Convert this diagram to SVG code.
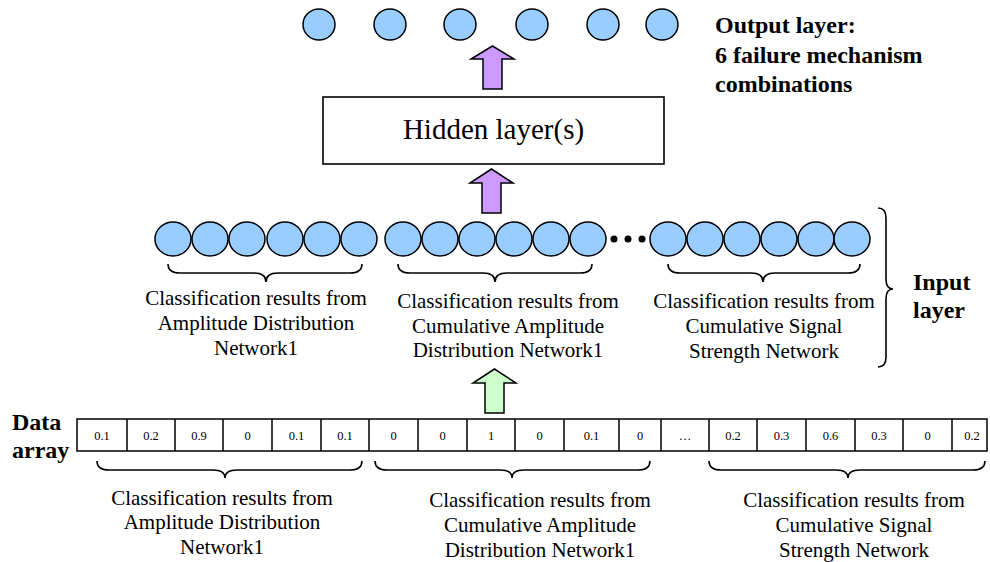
<svg xmlns="http://www.w3.org/2000/svg" width="990" height="562" viewBox="0 0 990 562">
<style>
.n{fill:#99CCFF;stroke:#000;stroke-width:1.5}
.br{fill:none;stroke:#000;stroke-width:1.6}
.t{font-family:"Liberation Serif","Times New Roman",serif;fill:#000}
.lbl{font-size:21px;text-anchor:middle}
.b{font-size:24px;font-weight:bold}
.cell{fill:#fff;stroke:#000;stroke-width:1.5}
.ct{font-size:12.5px;text-anchor:middle}
.pa{fill:#CC99FF;stroke:#000;stroke-width:1.5;stroke-linejoin:miter}
.ga{fill:#CCFFCC;stroke:#000;stroke-width:1.5}
</style>
<rect width="990" height="562" fill="#fff"/>

<g id="output-layer">
<ellipse class="n" cx="319" cy="24.5" rx="16" ry="15.5"/>
<ellipse class="n" cx="390" cy="24.5" rx="16" ry="15.5"/>
<ellipse class="n" cx="460" cy="24.5" rx="16" ry="15.5"/>
<ellipse class="n" cx="532" cy="24.5" rx="16" ry="15.5"/>
<ellipse class="n" cx="603" cy="24.5" rx="16" ry="15.5"/>
<ellipse class="n" cx="662" cy="24.5" rx="16" ry="15.5"/>
</g>
<g id="output-label">
<text class="t b" x="715" y="33">Output layer:</text>
<text class="t b" x="715" y="63">6 failure mechanism</text>
<text class="t b" x="715" y="92">combinations</text>
</g>

<g id="hidden-layer">
<rect x="323" y="97" width="341" height="67" fill="#fff" stroke="#000" stroke-width="1.6"/>
<text class="t" x="493.5" y="139" font-size="29" text-anchor="middle">Hidden layer(s)</text>
</g>

<g id="connectors">
<path class="pa" d="M492.5,46 L514,59 L502,59 L502,89 L483,89 L483,59 L471,59 Z"/>
<path class="pa" d="M491.5,169 L513,183 L501,183 L501,213 L482,213 L482,183 L470,183 Z"/>
<path class="ga" d="M494.5,369 L516,383 L504,383 L504,413 L485,413 L485,383 L473,383 Z"/>
</g>

<g id="input-group-1">
<ellipse class="n" cx="173" cy="239" rx="18" ry="17"/>
<ellipse class="n" cx="210" cy="239" rx="18" ry="17"/>
<ellipse class="n" cx="247" cy="239" rx="18" ry="17"/>
<ellipse class="n" cx="285" cy="239" rx="18" ry="17"/>
<ellipse class="n" cx="322" cy="239" rx="18" ry="17"/>
<ellipse class="n" cx="359" cy="239" rx="18" ry="17"/>
<path class="br" d="M168,264 Q168,273 180,273 L254,273 Q266,273 266,282 Q266,273 278,273 L350,273 Q362,273 362,264"/>
<text class="t lbl" x="256" y="305">Classification results from</text>
<text class="t lbl" x="256" y="330">Amplitude Distribution</text>
<text class="t lbl" x="256" y="355">Network1</text>
</g>

<g id="input-group-2">
<ellipse class="n" cx="403" cy="239" rx="18" ry="17"/>
<ellipse class="n" cx="440" cy="239" rx="18" ry="17"/>
<ellipse class="n" cx="477" cy="239" rx="18" ry="17"/>
<ellipse class="n" cx="514" cy="239" rx="18" ry="17"/>
<ellipse class="n" cx="551" cy="239" rx="18" ry="17"/>
<ellipse class="n" cx="588" cy="239" rx="18" ry="17"/>
<path class="br" d="M398,264 Q398,273 410,273 L483,273 Q495,273 495,282 Q495,273 507,273 L580,273 Q592,273 592,264"/>
<text class="t lbl" x="508" y="308">Classification results from</text>
<text class="t lbl" x="508" y="333">Cumulative Amplitude</text>
<text class="t lbl" x="508" y="357">Distribution Network1</text>
</g>

<g id="ellipsis-dots">
<circle cx="614" cy="239" r="3.5" fill="#000"/>
<circle cx="628" cy="239" r="3.5" fill="#000"/>
<circle cx="642" cy="239" r="3.5" fill="#000"/>
</g>

<g id="input-group-3">
<ellipse class="n" cx="668" cy="239" rx="18" ry="17"/>
<ellipse class="n" cx="705" cy="239" rx="18" ry="17"/>
<ellipse class="n" cx="742" cy="239" rx="18" ry="17"/>
<ellipse class="n" cx="779" cy="239" rx="18" ry="17"/>
<ellipse class="n" cx="816" cy="239" rx="18" ry="17"/>
<ellipse class="n" cx="852" cy="239" rx="18" ry="17"/>
<path class="br" d="M668,264 Q668,273 680,273 L751,273 Q763,273 763,282 Q763,273 775,273 L848,273 Q860,273 860,264"/>
<text class="t lbl" x="764" y="308">Classification results from</text>
<text class="t lbl" x="764" y="333">Cumulative Signal</text>
<text class="t lbl" x="764" y="358">Strength Network</text>
</g>

<g id="input-layer-label">
<path class="br" d="M878,208 Q886,208 886,218 L886,279 Q886,289 893,289 Q886,289 886,299 L886,357 Q886,367 878,367"/>
<text class="t b" x="913" y="290">Input</text>
<text class="t b" x="913" y="318">layer</text>
</g>

<g id="data-array">
<text class="t b" x="12" y="430">Data</text>
<text class="t b" x="12" y="458">array</text>
<rect class="cell" x="77" y="419" width="910" height="32"/>
<path d="M127,419V451M175,419V451M223,419V451M272,419V451M321,419V451M369,419V451M418,419V451M467,419V451M515,419V451M564,419V451M619,419V451M661,419V451M709,419V451M757,419V451M806,419V451M855,419V451M903,419V451M952,419V451" stroke="#000" stroke-width="1.5"/>
<g class="t ct">
<text x="102" y="440">0.1</text>
<text x="151" y="440">0.2</text>
<text x="199" y="440">0.9</text>
<text x="247.5" y="440">0</text>
<text x="296.5" y="440">0.1</text>
<text x="345" y="440">0.1</text>
<text x="393.5" y="440">0</text>
<text x="442.5" y="440">0</text>
<text x="491" y="440">1</text>
<text x="539.5" y="440">0</text>
<text x="591.5" y="440">0.1</text>
<text x="640" y="440">0</text>
<text x="685" y="440">…</text>
<text x="733" y="440">0.2</text>
<text x="781.5" y="440">0.3</text>
<text x="830.5" y="440">0.6</text>
<text x="879" y="440">0.3</text>
<text x="927.5" y="440">0</text>
<text x="972" y="440">0.2</text>
</g>
</g>

<g id="array-group-1">
<path class="br" d="M97,461 Q97,470 109,470 L213,470 Q225,470 225,478 Q225,470 237,470 L350,470 Q362,470 362,461"/>
<text class="t lbl" x="222" y="505">Classification results from</text>
<text class="t lbl" x="222" y="529">Amplitude Distribution</text>
<text class="t lbl" x="222" y="554">Network1</text>
</g>
<g id="array-group-2">
<path class="br" d="M375,461 Q375,470 387,470 L500,470 Q512,470 512,478 Q512,470 524,470 L638,470 Q650,470 650,461"/>
<text class="t lbl" x="540" y="507">Classification results from</text>
<text class="t lbl" x="540" y="532">Cumulative Amplitude</text>
<text class="t lbl" x="540" y="557">Distribution Network1</text>
</g>
<g id="array-group-3">
<path class="br" d="M709,461 Q709,470 721,470 L836,470 Q848,470 848,478 Q848,470 860,470 L973,470 Q985,470 985,461"/>
<text class="t lbl" x="854" y="507">Classification results from</text>
<text class="t lbl" x="854" y="532">Cumulative Signal</text>
<text class="t lbl" x="854" y="557">Strength Network</text>
</g>
</svg>
